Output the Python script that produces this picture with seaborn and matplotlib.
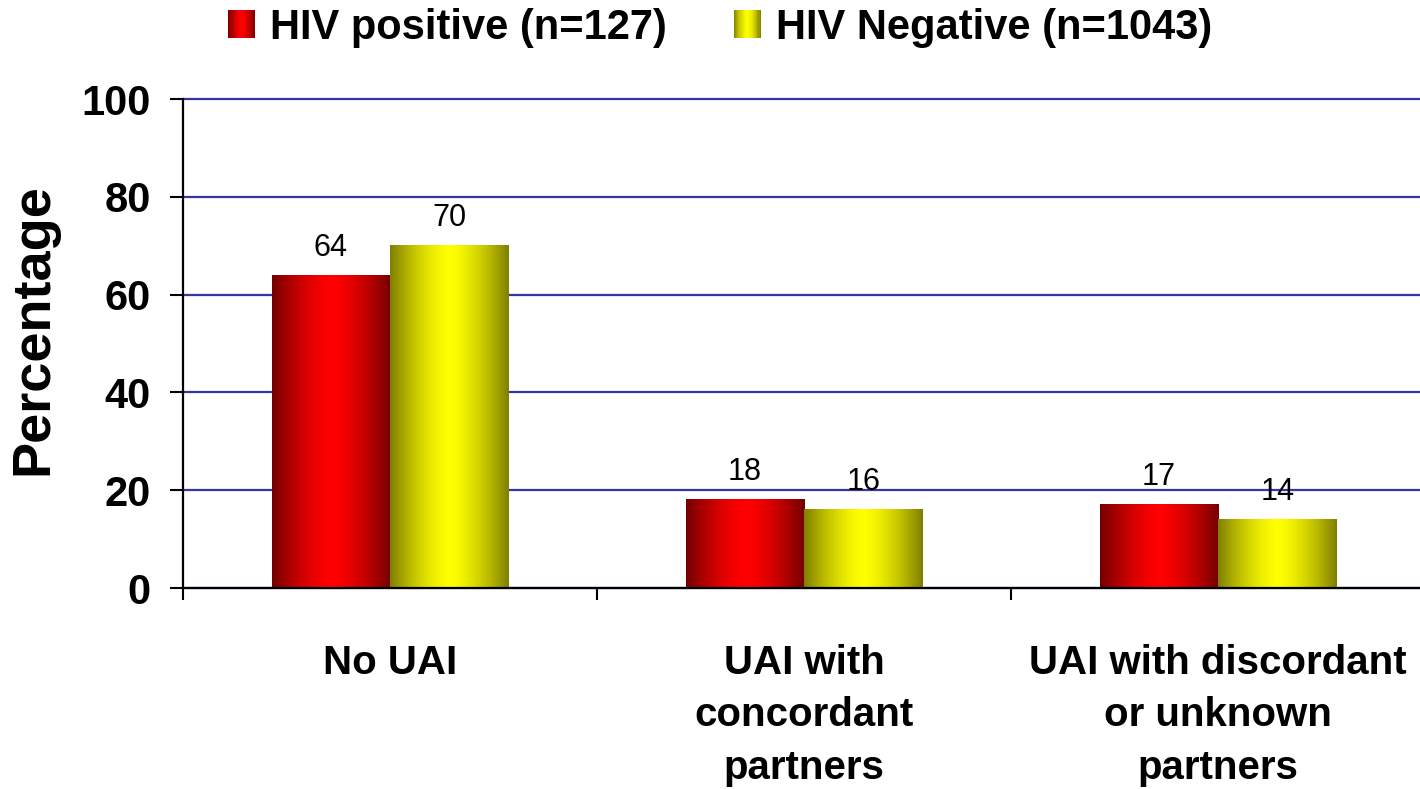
import numpy as np
import pandas as pd
import seaborn as sns
import matplotlib
matplotlib.use("Agg")
from matplotlib import pyplot as plt
from matplotlib.patches import Patch, Rectangle
from matplotlib.legend_handler import HandlerBase

categories = ["No UAI", "UAI with\nconcordant\npartners", "UAI with discordant\nor unknown\npartners"]
groups = ["HIV positive (n=127)", "HIV Negative (n=1043)"]
hiv_positive = [64, 18, 17]
hiv_negative = [70, 16, 14]

BAR_COLORS = {
    groups[0]: ((1.0, 0.0, 0.0), 0.45),
    groups[1]: ((1.0, 1.0, 0.0), 0.50),
}
GRID_COLOR = "#3535a5"


def shade(rgb, edge, t):
    # bright in the middle, dark at both edges (cylinder look)
    f = 1 - (1 - edge) * np.abs(2 * t - 1) ** 1.5
    return np.clip(np.outer(f, rgb), 0, 1)


class GradientHandler(HandlerBase):
    def __init__(self, rgb, edge):
        super().__init__()
        self.rgb, self.edge = rgb, edge

    def create_artists(self, legend, orig_handle, xdescent, ydescent,
                       width, height, fontsize, trans):
        n = 24
        cols = shade(self.rgb, self.edge, (np.arange(n) + 0.5) / n)
        return [Rectangle((-xdescent + i * width / n, -ydescent), width / n * 1.05, height,
                          facecolor=cols[i], edgecolor="none", transform=trans)
                for i in range(n)]


df = pd.DataFrame({
    "category": categories * 2,
    "group": [groups[0]] * 3 + [groups[1]] * 3,
    "value": hiv_positive + hiv_negative,
})

sns.set_style("white")
plt.rcParams["font.family"] = ["Liberation Sans", "DejaVu Sans"]
plt.rcParams.update({
    "text.color": "black",
    "axes.labelcolor": "black",
    "xtick.color": "black",
    "ytick.color": "black",
})

fig = plt.figure(figsize=(14.2, 7.89), dpi=100)
ax = fig.add_axes([183 / 1420, 1 - 588 / 789, 1242 / 1420, 489 / 789])

sns.barplot(data=df, x="category", y="value", hue="group", hue_order=groups,
            palette=["red", "yellow"], width=0.572, saturation=1, legend=False, ax=ax)

# replace flat bars with horizontal gradients
t = np.linspace(0, 1, 200)
for container, grp in zip(ax.containers, groups):
    rgb, edge = BAR_COLORS[grp]
    img = shade(rgb, edge, t)[np.newaxis, :, :]
    for bar in container:
        x, w, h = bar.get_x(), bar.get_width(), bar.get_height()
        ax.imshow(img, extent=(x, x + w, 0, h), aspect="auto", zorder=2,
                  interpolation="bilinear")
        bar.set_visible(False)
    ax.bar_label(container, labels=[f"{v:.0f}" for v in container.datavalues],
                 padding=9, fontsize=22, fontweight="normal", color="black")

ax.set_xlim(-0.5, 2.5)
ax.set_ylim(0, 100)
ax.set_yticks([0, 20, 40, 60, 80, 100])
ax.set_xticks([0, 1, 2], labels=categories, fontweight="bold", linespacing=1.49,
              va="top", fontsize=29)
ax.set_xticks([-0.5, 0.5, 1.5, 2.5], minor=True)

ax.set_axisbelow(True)
ax.yaxis.grid(True, color=GRID_COLOR, lw=1.6)
ax.xaxis.grid(False)
for line in ax.yaxis.get_gridlines():
    line.set_clip_on(False)

for side in ["top", "right"]:
    ax.spines[side].set_visible(False)
for side in ["left", "bottom"]:
    ax.spines[side].set_color("black")
    ax.spines[side].set_linewidth(1.6)

ax.tick_params(axis="y", direction="out", length=9.4, width=1.5, color="black",
               pad=14, labelsize=30, left=True)
ax.tick_params(axis="x", which="major", length=0, pad=40)
ax.tick_params(axis="x", which="minor", direction="out", length=8.6, width=1.5,
               color="black", bottom=True)
for lbl in ax.get_yticklabels():
    lbl.set_fontweight("bold")

ax.set_xlabel("")
ax.set_ylabel("Percentage", fontsize=39, fontweight="bold")
ax.yaxis.set_label_coords((58 - 183) / 1242, 0.53)

handles = [Patch(label=g) for g in groups]
handler_map = {h: GradientHandler(*BAR_COLORS[h.get_label()]) for h in handles}
fig.legend(handles=handles, handler_map=handler_map, loc="center",
           bbox_to_anchor=(720 / 1420, 1 - 28 / 789), ncol=2, frameon=False,
           prop={"size": 30, "weight": "bold"}, handlelength=0.65, handleheight=0.65,
           handletextpad=0.36, columnspacing=1.6, borderaxespad=0)

fig.savefig("out.png", dpi=100)
